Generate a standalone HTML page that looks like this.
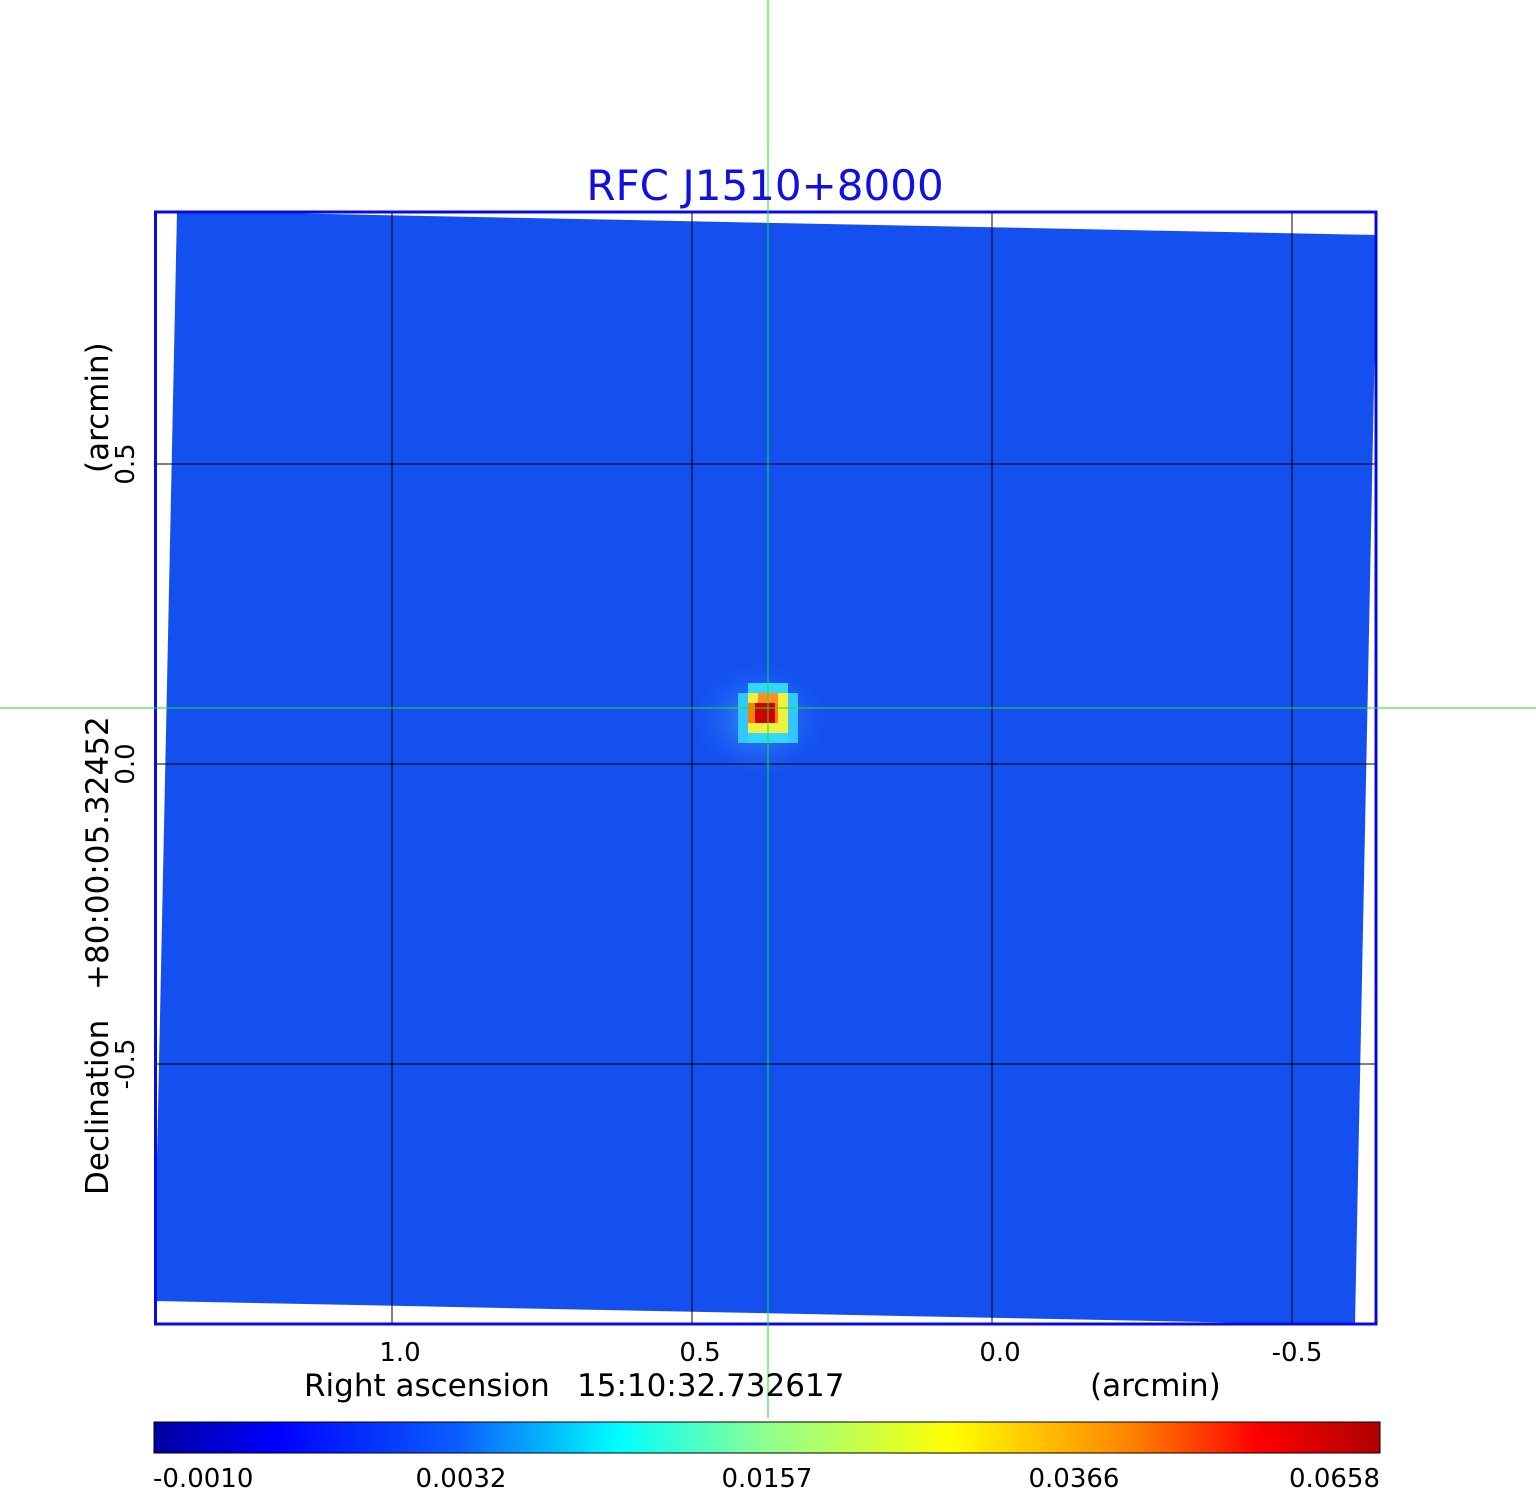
<!DOCTYPE html>
<html><head><style>
body{margin:0;background:#fff;width:1536px;height:1511px;overflow:hidden;font-family:"DejaVu Sans","Liberation Sans",sans-serif}
</style></head><body>
<svg width="1536" height="1511" xmlns="http://www.w3.org/2000/svg" style="position:absolute;left:0;top:0">
<defs>
<linearGradient id="cb" x1="0" x2="1" y1="0" y2="0">
<stop offset="0" stop-color="#0000a0"/>
<stop offset="0.1" stop-color="#0000ff"/>
<stop offset="0.25" stop-color="#0a60ff"/>
<stop offset="0.38" stop-color="#00ffff"/>
<stop offset="0.5" stop-color="#90ff90"/>
<stop offset="0.65" stop-color="#ffff00"/>
<stop offset="0.8" stop-color="#ff8000"/>
<stop offset="0.9" stop-color="#ff0000"/>
<stop offset="1" stop-color="#b00000"/>
</linearGradient>
<radialGradient id="glow" cx="0.5" cy="0.5" r="0.5">
<stop offset="0" stop-color="#3aa0ff"/>
<stop offset="1" stop-color="#1a55f0" stop-opacity="0"/>
</radialGradient>
</defs>
<polygon points="177,211 1377,235 1355,1325 154,1301" fill="#1450f0"/>
<ellipse cx="760" cy="720" rx="70" ry="60" fill="url(#glow)"/>
<rect x="738" y="693" width="60" height="50" fill="#30c8ff"/>
<rect x="748" y="683" width="40" height="60" fill="#30d8ff"/>
<rect x="748" y="693" width="40" height="40" fill="#f0f040"/>
<rect x="758" y="693" width="20" height="10" fill="#ff9020"/>
<rect x="748" y="703" width="30" height="20" fill="#ff8000"/>
<rect x="755" y="703" width="20" height="20" fill="#d00000"/>
<g stroke="#000" stroke-width="1">
<line x1="392" y1="211" x2="392" y2="1325"/>
<line x1="692" y1="211" x2="692" y2="1325"/>
<line x1="992" y1="211" x2="992" y2="1325"/>
<line x1="1292" y1="211" x2="1292" y2="1325"/>
<line x1="154" y1="464" x2="1377" y2="464"/>
<line x1="154" y1="764" x2="1377" y2="764"/>
<line x1="154" y1="1064" x2="1377" y2="1064"/>
</g>
<rect x="155.5" y="212" width="1220.5" height="1112" fill="none" stroke="#0a0adc" stroke-width="3"/>
<line x1="768" y1="0" x2="768" y2="1418" stroke="#20e020" stroke-width="1"/>
<line x1="0" y1="708" x2="1536" y2="708" stroke="#20e020" stroke-width="1"/>
<text x="765" y="200" font-size="42" fill="#1010e0" text-anchor="middle" font-family="DejaVu Sans,sans-serif">RFC J1510+8000</text>
<g font-size="26" fill="#000" font-family="DejaVu Sans,sans-serif">
<text x="400" y="1361" text-anchor="middle">1.0</text>
<text x="700" y="1361" text-anchor="middle">0.5</text>
<text x="1000" y="1361" text-anchor="middle">0.0</text>
<text x="1297" y="1361" text-anchor="middle">-0.5</text>
<text x="304" y="1396" font-size="31">Right ascension</text>
<text x="577" y="1396" font-size="31">15:10:32.732617</text>
<text x="1090" y="1396" font-size="31">(arcmin)</text>
<text transform="translate(134,464) rotate(-90)" text-anchor="middle">0.5</text>
<text transform="translate(134,764) rotate(-90)" text-anchor="middle">0.0</text>
<text transform="translate(134,1064) rotate(-90)" text-anchor="middle">-0.5</text>
<text transform="translate(108,1195) rotate(-90)" font-size="31">Declination</text>
<text transform="translate(108,990) rotate(-90)" font-size="31">+80:00:05.32452</text>
<text transform="translate(108,473) rotate(-90)" font-size="31">(arcmin)</text>
</g>
<rect x="154" y="1422" width="1226" height="31" fill="url(#cb)" stroke="#000" stroke-width="1"/>
<g font-size="26" fill="#000" font-family="DejaVu Sans,sans-serif">
<text x="153" y="1487">-0.0010</text>
<text x="461" y="1487" text-anchor="middle">0.0032</text>
<text x="767" y="1487" text-anchor="middle">0.0157</text>
<text x="1074" y="1487" text-anchor="middle">0.0366</text>
<text x="1380" y="1487" text-anchor="end">0.0658</text>
</g>
</svg>
</body></html>
